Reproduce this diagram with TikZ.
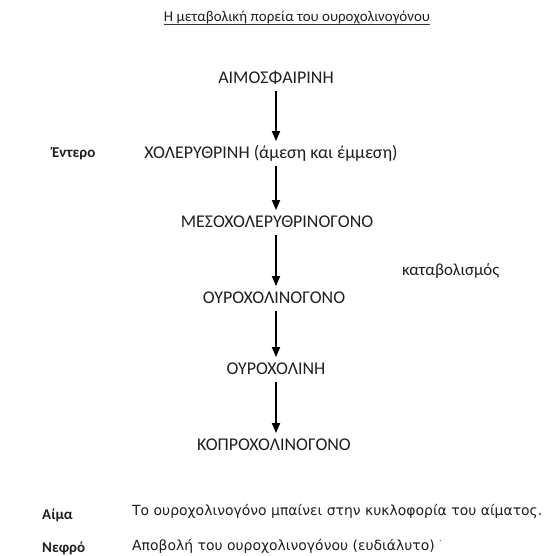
\documentclass[tikz,border=0pt]{standalone}
\usepackage{fontspec}
\setmainfont{Carlito}
\newfontfamily\botfont{DejaVu Sans}
\usetikzlibrary{arrows.meta}
\begin{document}
\begin{tikzpicture}[x=1bp,y=-1bp,
  every node/.style={inner sep=0pt, text=black!88},
  chem/.style={font=\fontsize{18}{20}\selectfont, text height=11.4bp, text depth=0pt},
  organ/.style={font=\fontsize{15}{17}\selectfont\bfseries, anchor=west, text height=9.7bp, text depth=0pt},
  sentence/.style={font=\botfont\fontsize{14}{16}\selectfont, anchor=west, text height=10bp, text depth=0pt},
  flow/.style={line width=1.8bp, -{Triangle[width=8bp,length=10bp]}, shorten <=7bp, shorten >=6bp}]
\useasboundingbox[fill=white] (0,0) rectangle (552,556);
\node[font=\fontsize{15}{17}\selectfont, anchor=base] (title) at (297,22) {Η μεταβολική πορεία του ουροχολινογόνου};
\draw[line width=0.6bp, black!80] ([yshift=-2.2bp]title.base west) -- ([yshift=-2.2bp]title.base east);
\node[chem] (aimo) at (276,78) {ΑΙΜΟΣΦΑΙΡΙΝΗ};
\node[chem] (chol) at (271,153) {ΧΟΛΕΡΥΘΡΙΝΗ (άμεση και έμμεση)};
\node[chem] (meso) at (277,222) {ΜΕΣΟΧΟΛΕΡΥΘΡΙΝΟΓΟΝΟ};
\node[chem] (ouro) at (274,298) {ΟΥΡΟΧΟΛΙΝΟΓΟΝΟ};
\node[chem] (ourh) at (276,369) {ΟΥΡΟΧΟΛΙΝΗ};
\node[chem] (kopr) at (274,445) {ΚΟΠΡΟΧΟΛΙΝΟΓΟΝΟ};
\node[font=\fontsize{17}{19}\selectfont, anchor=west, text height=11bp, text depth=0pt] (katab) at (402,270) {καταβολισμός};
\node[organ] (enter) at (52,153) {Έντερο};
\node[organ] (aima) at (42,515) {Αίμα};
\node[organ] (nefro) at (42,548) {Νεφρό};
\node[sentence] (s1) at (132,510) {Το ουροχολινογόνο μπαίνει στην κυκλοφορία του αίματος.};
\node[sentence] (s2) at (132,545) {Αποβολή του ουροχολινογόνου (ευδιάλυτο) \raisebox{1.1ex}{\fontsize{8}{8}\selectfont .}};
\coordinate (ax) at (276,0);
\draw[flow] (aimo.south -| ax) -- (chol.north -| ax);
\draw[flow] (chol.south -| ax) -- (meso.north -| ax);
\draw[flow] (meso.south -| ax) -- (ouro.north -| ax);
\draw[flow] (ouro.south -| ax) -- (ourh.north -| ax);
\draw[flow] (ourh.south -| ax) -- (kopr.north -| ax);
\end{tikzpicture}
\end{document}
